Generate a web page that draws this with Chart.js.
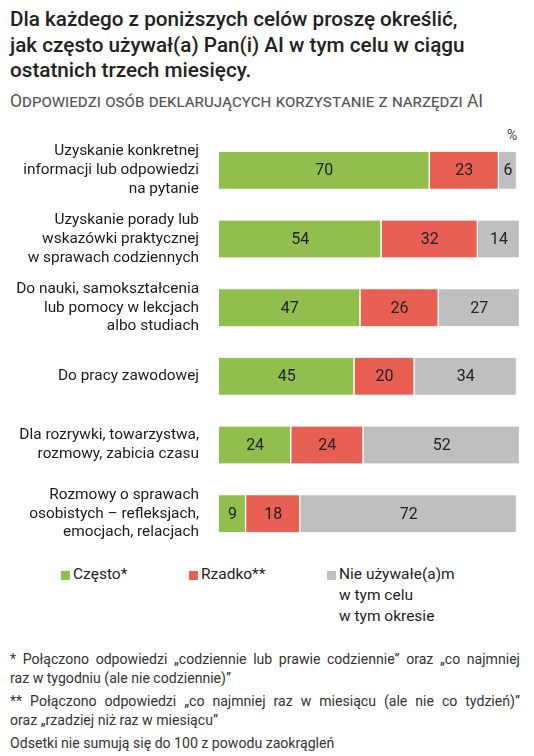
<!DOCTYPE html>
<html lang="pl">
<head>
<meta charset="utf-8">
<script src="https://cdn.jsdelivr.net/npm/chart.js@4.4.1/dist/chart.umd.min.js"></script>
<style>
  body { margin: 0; width: 534px; height: 756px; background: #fff; font-family: Roboto, sans-serif; color: #222; position: relative; overflow: hidden; }
  h1 { position: absolute; left: 10px; top: 7px; margin: 0; font-size: 20.7px; font-weight: 500; line-height: 25.5px; color: #222; }
  .sub { position: absolute; left: 10px; top: 91px; font-size: 17.5px; color: #555; font-variant: small-caps; }
  .pct { position: absolute; left: 507px; top: 127px; font-size: 14px; color: #444; }
  #wrap { position: absolute; left: 0; top: 136px; width: 534px; height: 412px; }
  .legend { position: absolute; top: 564px; font-size: 15.5px; line-height: 21px; color: #222; }
  .legend i { position: absolute; left: -12px; top: 7px; width: 9px; height: 9px; }
  .notes { position: absolute; left: 10px; top: 650px; width: 510px; font-size: 14.1px; line-height: 19px; color: #333; }
  .notes p { margin: 0 0 4px 0; }
  .just { display: block; text-align: justify; text-align-last: justify; }
</style>
</head>
<body>
<h1>Dla każdego z poniższych celów proszę określić,<br>jak często używał(a) Pan(i) AI w tym celu w ciągu<br>ostatnich trzech miesięcy.</h1>
<div class="sub">Odpowiedzi osób deklarujących korzystanie z narzędzi AI</div>
<div class="pct">%</div>
<div id="wrap"><canvas id="chart"></canvas></div>
<div class="legend" style="left:73px"><i style="background:#92be4e"></i>Często*</div>
<div class="legend" style="left:201px"><i style="background:#e86054"></i>Rzadko**</div>
<div class="legend" style="left:339px"><i style="background:#bfbfbf"></i>Nie używałe(a)m<br>w tym celu<br>w tym okresie</div>
<div class="notes">
  <p><span class="just">* Połączono odpowiedzi „codziennie lub prawie codziennie” oraz „co najmniej</span>raz w tygodniu (ale nie codziennie)”</p>
  <p><span class="just">** Połączono odpowiedzi „co najmniej raz w miesiącu (ale nie co tydzień)”</span>oraz „rzadziej niż raz w miesiącu”</p>
  <p>Odsetki nie sumują się do 100 z powodu zaokrągleń</p>
</div>
<script>
const categories = [
  ['Uzyskanie konkretnej', 'informacji lub odpowiedzi', 'na pytanie'],
  ['Uzyskanie porady lub', 'wskazówki praktycznej', 'w sprawach codziennych'],
  ['Do nauki, samokształcenia', 'lub pomocy w lekcjach', 'albo studiach'],
  ['Do pracy zawodowej'],
  ['Dla rozrywki, towarzystwa,', 'rozmowy, zabicia czasu'],
  ['Rozmowy o sprawach', 'osobistych – refleksjach,', 'emocjach, relacjach']
];
const often = [70, 54, 47, 45, 24, 9];
const rarely = [23, 32, 26, 20, 24, 18];
const never = [6, 14, 27, 34, 52, 72];
const seriesNames = ['Często*', 'Rzadko**', 'Nie używałe(a)m w tym celu w tym okresie'];
const colors = ['#92be4e', '#e86054', '#bfbfbf'];

// numbers in the middle of every segment
const valueLabels = {
  id: 'valueLabels',
  afterDatasetsDraw(chart) {
    const ctx = chart.ctx;
    ctx.save();
    ctx.font = '16px Roboto';
    ctx.fillStyle = '#222';
    ctx.textAlign = 'center';
    ctx.textBaseline = 'middle';
    chart.data.datasets.forEach((ds, i) => {
      chart.getDatasetMeta(i).data.forEach((bar, j) => {
        const x = (bar.x + bar.base) / 2;
        ctx.fillText(ds.data[j], x, bar.y + 1);
      });
    });
    ctx.restore();
  }
};

const makeSet = (label, data, color) => ({
  label, data,
  backgroundColor: color,
  borderColor: '#fff',
  borderWidth: { left: 0, right: 1.5, top: 0, bottom: 0 },
  borderSkipped: false,
  barThickness: 37
});

new Chart(document.getElementById('chart'), {
  type: 'bar',
  data: {
    labels: categories,
    datasets: [
      makeSet(seriesNames[0], often, colors[0]),
      makeSet(seriesNames[1], rarely, colors[1]),
      makeSet(seriesNames[2], never, colors[2])
    ]
  },
  options: {
    indexAxis: 'y',
    responsive: true,
    maintainAspectRatio: false,
    animation: false,
    layout: { padding: { left: 0, right: 14, top: 0, bottom: 0 } },
    plugins: { legend: { display: false }, tooltip: { enabled: false } },
    scales: {
      x: { stacked: true, min: 0, max: 100, display: false },
      y: {
        stacked: true,
        grid: { display: false },
        border: { display: false },
        afterFit(scale) {
          scale.width = 219;
          scale.paddingTop = 0;
          scale.paddingBottom = 0;
        },
        ticks: { color: '#1a1a1a', font: { family: 'Roboto', size: 15.4, lineHeight: 1.22 }, padding: 12 }
      }
    }
  },
  plugins: [valueLabels]
});
</script>
</body>
</html>
